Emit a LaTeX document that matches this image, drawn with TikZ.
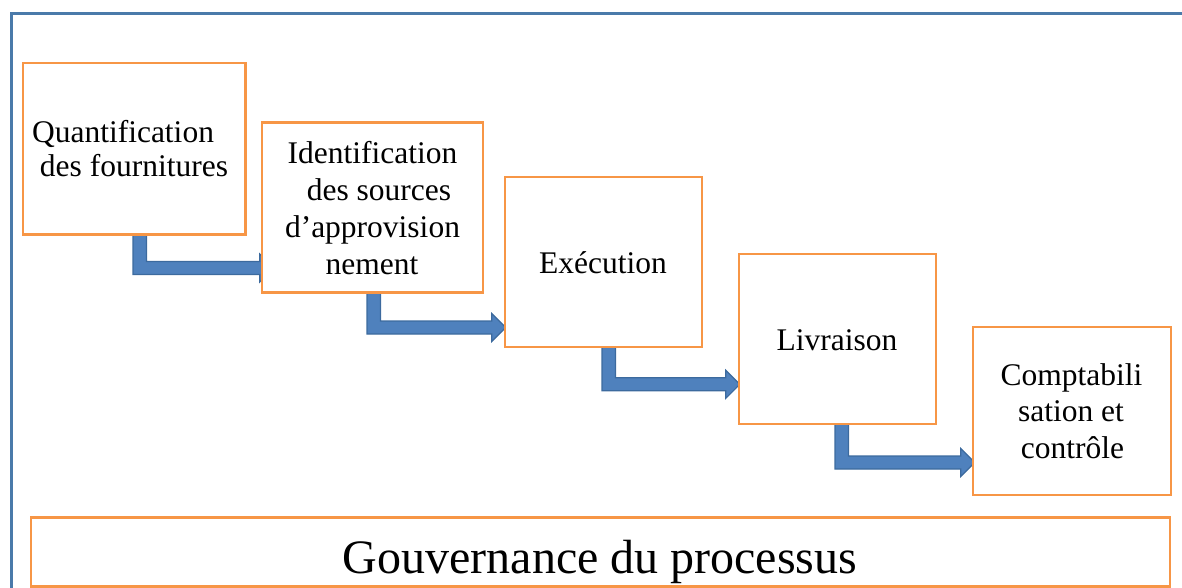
\documentclass[tikz,border=0pt]{standalone}
\usepackage{fontspec}
\setmainfont{Liberation Serif}
\usetikzlibrary{calc}
\definecolor{boxorange}{HTML}{F79646}
\definecolor{frameblue}{HTML}{4A7AAA}
\definecolor{arrowfill}{HTML}{4F81BD}
\definecolor{arrowline}{HTML}{3C6A9E}
\tikzset{
  stepbox/.style={draw=boxorange, line width=2.8pt, fill=white, inner sep=0pt},
  lbl/.style={anchor=base, inner sep=0pt, font=\fontsize{31.5}{37}\selectfont},
  govlbl/.style={anchor=base, inner sep=0pt, font=\fontsize{48}{56}\selectfont},
  blockarrow/.style={fill=arrowfill, draw=arrowline, line width=1.2pt, line join=miter},
}
% #1 from node, #2 to node, #3 stem left x, #4 bar centre y, #5 tip offset
\newcommand{\bentarrow}[5]{%
  \draw[blockarrow] (#3,0 |- #1.south)
    -- ({#3+13.5},0 |- #1.south)
    -- ({#3+13.5},{#4-6.5})
    -- ($(#2.west |- 0,#4)+({#5-14},-6.5)$)
    -- ($(#2.west |- 0,#4)+({#5-14},-14)$)
    -- ($(#2.west |- 0,#4)+(#5,0)$)
    -- ($(#2.west |- 0,#4)+({#5-14},14)$)
    -- ($(#2.west |- 0,#4)+({#5-14},6.5)$)
    -- (#3,{#4+6.5}) -- cycle;}
\begin{document}
\begin{tikzpicture}[x=1pt,y=-1pt]
\useasboundingbox (0,0) rectangle (1182,587);
% outer frame
\coordinate (fbl) at (11,600);
\coordinate (ftl) at (11,13);
\coordinate (ftr) at (1200,13);
\draw[frameblue, line width=3pt] (fbl) -- (ftl) -- (ftr);
% box positions
\path (134.25,148.75) coordinate (c1)
      (372.5,207.5) coordinate (c2)
      (603.5,262) coordinate (c3)
      (837.5,339) coordinate (c4)
      (1072,411) coordinate (c5);
% invisible placeholders for arrows' anchors
\node[minimum width=222.5pt, minimum height=171.5pt, inner sep=0pt] (b1) at (c1) {};
\node[minimum width=221pt, minimum height=170pt, inner sep=0pt] (b2) at (c2) {};
\node[minimum width=197pt, minimum height=170pt, inner sep=0pt] (b3) at (c3) {};
\node[minimum width=197pt, minimum height=170pt, inner sep=0pt] (b4) at (c4) {};
\node[minimum width=198pt, minimum height=168pt, inner sep=0pt] (b5) at (c5) {};
% arrows
\bentarrow{b1}{b2}{133}{268}{12}
\bentarrow{b2}{b3}{367}{327.5}{1}
\bentarrow{b3}{b4}{602}{384.3}{1}
\bentarrow{b4}{b5}{835}{462.5}{2}
% boxes
\node[stepbox, minimum width=222.5pt, minimum height=171.5pt] (box1) at (c1) {};
\node[stepbox, minimum width=221pt, minimum height=170pt] (box2) at (c2) {};
\node[stepbox, minimum width=197pt, minimum height=170pt] (box3) at (c3) {};
\node[stepbox, minimum width=197pt, minimum height=170pt] (box4) at (c4) {};
\node[stepbox, minimum width=198pt, minimum height=168pt] (box5) at (c5) {};
\node[stepbox, minimum width=1139pt, minimum height=69pt] (gov) at (600.5,552) {};
% labels
\node[lbl] (t1a) at (123,142) {Quantification};
\node[lbl] (t1b) at (134,176) {des fournitures};
\node[lbl] (t2a) at (372.5,163) {Identification};
\node[lbl] (t2b) at (379,200) {des sources};
\node[lbl] (t2c) at (372.5,237) {d’approvision};
\node[lbl] (t2d) at (372,274) {nement};
\node[lbl] (t3) at (603,273) {Exécution};
\node[lbl] (t4) at (837,350) {Livraison};
\node[lbl] (t5a) at (1071.5,385) {Comptabili};
\node[lbl] (t5b) at (1071,421.7) {sation et};
\node[lbl] (t5c) at (1072.5,458) {contrôle};
\node[govlbl] (tg) at (600,573) {Gouvernance du processus};
\end{tikzpicture}
\end{document}
